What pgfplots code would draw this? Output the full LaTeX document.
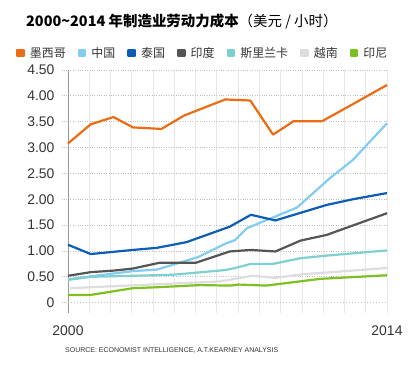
\documentclass[border=0pt]{standalone}
\usepackage{fontspec}
\setmainfont{Liberation Sans}
\newfontfamily\cjk{Noto Sans CJK SC}
\usepackage{pgfplots}
\pgfplotsset{compat=1.18}
\definecolor{cMex}{HTML}{EB6C12}
\definecolor{cChn}{HTML}{82CBF2}
\definecolor{cTha}{HTML}{0B5DB5}
\definecolor{cInd}{HTML}{555555}
\definecolor{cSri}{HTML}{7ECFD0}
\definecolor{cVie}{HTML}{DDDDDD}
\definecolor{cIdn}{HTML}{7CC11F}
\definecolor{txt}{HTML}{333333}
\begin{document}
\begin{tikzpicture}
\useasboundingbox (0,0) rectangle (420bp,367bp);
\begin{axis}[
  at={(68bp,54bp)}, anchor=south west,
  scale only axis, width=319bp, height=243bp,
  xmin=2000, xmax=2014, ymin=-0.2, ymax=4.5,
  axis x line*=bottom, axis y line*=left,
  x axis line style={draw=none},
  y axis line style={draw=gray!80, line width=0.8bp, -},
  xtick={2000,2000.9333,2001.8667,2002.8,2003.7333,2004.6667,2005.6,2006.5333,2007.4667,2008.4,2009.3333,2010.2667,2011.2,2012.1333,2013.0667,2014},
  xticklabels={2000,,,,,,,,,,,,,,,2014},
  xmajorgrids, x grid style={draw=black!9, line width=0.8bp},
  xtick style={draw=none},
  ytick={0.5,1,1.5,2,2.5,3,3.5,4,4.5},
  yticklabels={0.50,1.00,1.50,2.00,2.50,3.00,3.50,4.00,4.50},
  ymajorgrids, y grid style={draw=black!25, dotted, line width=0.8bp},
  extra y ticks={0}, extra y tick labels={0},
  extra y tick style={grid style={draw=black!22, solid, line width=1bp}},
  ytick style={draw=black!25, dotted, line width=0.8bp},
  tick align=outside, major tick length=6bp,
  ticklabel style={font=\fontsize{14}{14}\selectfont, text=txt},
  yticklabel style={xshift=-4bp},
  xticklabel style={yshift=-3bp},
  legend style={at={(rel axis cs:-0.163,1.07)}, anchor=west, draw=none, fill=none,
    inner sep=0pt, font=\cjk\fontsize{12}{12}\selectfont, text=txt,
    nodes={inner sep=0pt},
    /tikz/every odd column/.style={column sep=5bp},
    /tikz/every even column/.style={column sep=12bp}},
  legend columns=-1,
  legend image code/.code={\fill[#1] (0bp,-3.3bp) rectangle (6.5bp,3.3bp);},
  every axis plot/.append style={line width=2.2bp, line join=round, no marks},
  clip=false,
]
\addplot[cMex] coordinates {(2000,3.08) (2001,3.45) (2002,3.59) (2002.85,3.39) (2004.1,3.36) (2005.1,3.62) (2006.9,3.93) (2008,3.91) (2009,3.25) (2009.9,3.51) (2011.15,3.51) (2012.3,3.79) (2014,4.21)};
\addlegendentry{墨西哥}
\addplot[cChn] coordinates {(2000,0.45) (2001,0.51) (2002.85,0.61) (2003.9,0.64) (2005.7,0.88) (2006.9,1.14) (2007.33,1.21) (2007.85,1.44) (2010.05,1.84) (2011.5,2.41) (2012.5,2.76) (2014,3.47)};
\addlegendentry{中国}
\addplot[cTha] coordinates {(2000,1.12) (2001,0.94) (2002.85,1.02) (2003.9,1.06) (2005.2,1.17) (2007.1,1.47) (2008.03,1.70) (2009.1,1.59) (2011.35,1.89) (2012.5,2.00) (2014,2.12)};
\addlegendentry{泰国}
\addplot[cInd] coordinates {(2000,0.52) (2001,0.59) (2002,0.62) (2002.85,0.66) (2004.0,0.77) (2005.6,0.77) (2007.1,0.99) (2008.03,1.02) (2009.1,0.99) (2010.2,1.20) (2011.35,1.31) (2014,1.73)};
\addlegendentry{印度}
\addplot[cSri] coordinates {(2000,0.44) (2001,0.50) (2002.85,0.52) (2004.6,0.54) (2006.9,0.63) (2007.33,0.67) (2008.03,0.75) (2009,0.75) (2010.2,0.86) (2011.35,0.91) (2014,1.01)};
\addlegendentry{斯里兰卡}
\addplot[cVie] coordinates {(2000.1,0.28) (2006.67,0.41) (2007.33,0.46) (2008.1,0.52) (2009.1,0.48) (2010.3,0.55) (2014,0.67)};
\addlegendentry{越南}
\addplot[cIdn] coordinates {(2000,0.15) (2001,0.15) (2002.85,0.28) (2004.0,0.30) (2005.8,0.34) (2007.1,0.33) (2007.5,0.35) (2008.7,0.33) (2011.06,0.46) (2014,0.53)};
\addlegendentry{印尼}
\end{axis}
\node[anchor=west, inner sep=0pt, text=black] at (26bp,346bp) {\cjk\bfseries\fontsize{14.5}{14.5}\selectfont 2000\textasciitilde 2014 年制造业劳动力成本\mdseries（美元 / 小时）};
\node[anchor=west, inner sep=0pt, text=txt] at (65bp,16bp) {\fontsize{7}{7}\selectfont SOURCE: ECONOMIST INTELLIGENCE, A.T.KEARNEY ANALYSIS};
\end{tikzpicture}
\end{document}
